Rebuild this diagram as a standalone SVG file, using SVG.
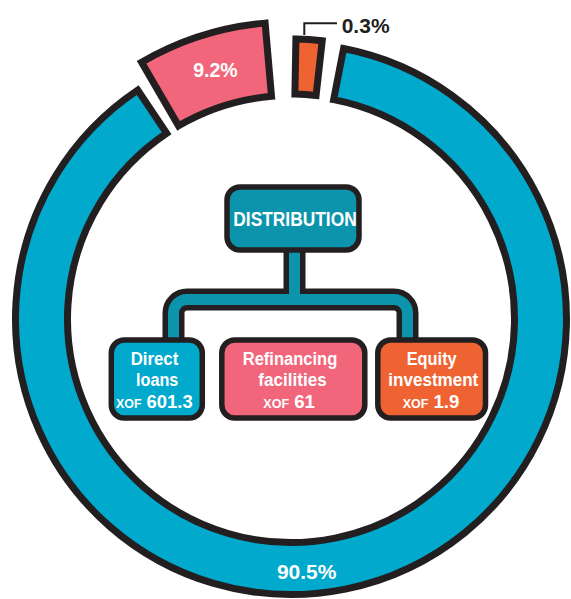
<svg xmlns="http://www.w3.org/2000/svg" width="571" height="599" viewBox="0 0 571 599">
<style>
.seg{stroke:#231F20;stroke-width:7;stroke-linejoin:miter}
.blue{fill:#01A9CC}
.pink{fill:#F1667B}
.orange{fill:#EF6333}
.teal{fill:#0B94AB}
.box{stroke:#231F20;stroke-width:5.5}
.lbl{font-family:"Liberation Sans",Arial,sans-serif;font-weight:bold;fill:#FFFFFF}
.pct{font-family:"Liberation Sans",Arial,sans-serif;font-weight:bold;fill:#FFFFFF}
.cb{fill:none;stroke:#231F20;stroke-width:22;stroke-linejoin:round}
.ct{fill:none;stroke:#0B94AB;stroke-width:11;stroke-linejoin:round}
</style>
<rect width="571" height="599" fill="#FFFFFF"/>
<g id="ring-direct-loans">
<path class="seg blue" d="M 343.57 48.56 A 275.5 275.5 0 1 1 137.74 90.06 L 166.67 133.28 A 223.5 223.5 0 1 0 333.65 99.61 Z"/>
<text class="pct" x="306.7" y="579.3" font-size="21" text-anchor="middle">90.5%</text>
</g>
<g id="ring-refinancing">
<path class="seg pink" d="M 141.60 62.31 A 297 297 0 0 1 265.11 23.13 L 271.52 96.35 A 223.5 223.5 0 0 0 178.57 125.84 Z"/>
<text class="pct" x="215.5" y="77.3" font-size="19.5" text-anchor="middle">9.2%</text>
</g>
<g id="ring-equity">
<path class="seg orange" d="M 295.89 39.04 A 280 280 0 0 1 322.21 40.74 L 316.08 95.40 A 225 225 0 0 0 294.93 94.03 Z"/>
<polyline points="304.3,35 304.3,23.3 337,23.3" fill="none" stroke="#231F20" stroke-width="2"/>
<text x="341.7" y="33.3" font-size="21" font-family="Liberation Sans, Arial, sans-serif" font-weight="bold" fill="#231F20">0.3%</text>
</g>
<g id="connectors">
<path class="cb" d="M 294.5 252 V 299.5 M 173.5 342 V 313 A 13.5 13.5 0 0 1 187 299.5 H 394 A 13.5 13.5 0 0 1 407.5 313 V 342"/>
<path class="ct" d="M 294.5 252 V 299.5 M 173.5 342 V 313 A 13.5 13.5 0 0 1 187 299.5 H 394 A 13.5 13.5 0 0 1 407.5 313 V 342"/>
</g>
<g id="distribution">
<rect class="box teal" x="227" y="187" width="132" height="63" rx="13"/>
<text class="lbl" x="233.3" y="226" font-size="21" textLength="123.4" lengthAdjust="spacingAndGlyphs">DISTRIBUTION</text>
</g>
<g id="direct-loans">
<rect class="box blue" x="111.3" y="340" width="91" height="78" rx="13"/>
<text class="lbl" x="130.7" y="364.8" font-size="18" textLength="47.6" lengthAdjust="spacingAndGlyphs">Direct</text>
<text class="lbl" x="136" y="385.6" font-size="18" textLength="42.3" lengthAdjust="spacingAndGlyphs">loans</text>
<text class="lbl" x="116" y="408.3" font-size="18.6" textLength="76.7" lengthAdjust="spacingAndGlyphs"><tspan font-size="12.5">XOF</tspan> 601.3</text>
</g>
<g id="refinancing-facilities">
<rect class="box pink" x="221.8" y="340" width="143" height="78" rx="13"/>
<text class="lbl" x="242.7" y="364.8" font-size="18" textLength="94.6" lengthAdjust="spacingAndGlyphs">Refinancing</text>
<text class="lbl" x="258.3" y="385.6" font-size="18" textLength="68.4" lengthAdjust="spacingAndGlyphs">facilities</text>
<text class="lbl" x="263.3" y="408.3" font-size="18.6" textLength="51.7" lengthAdjust="spacingAndGlyphs"><tspan font-size="12.5">XOF</tspan> 61</text>
</g>
<g id="equity-investment">
<rect class="box orange" x="377.8" y="340" width="107.7" height="78" rx="13"/>
<text class="lbl" x="406.7" y="364.8" font-size="18" textLength="50" lengthAdjust="spacingAndGlyphs">Equity</text>
<text class="lbl" x="388.3" y="385.6" font-size="18" textLength="90" lengthAdjust="spacingAndGlyphs">investment</text>
<text class="lbl" x="402.7" y="408.3" font-size="18.6" textLength="56.6" lengthAdjust="spacingAndGlyphs"><tspan font-size="12.5">XOF</tspan> 1.9</text>
</g>
</svg>
